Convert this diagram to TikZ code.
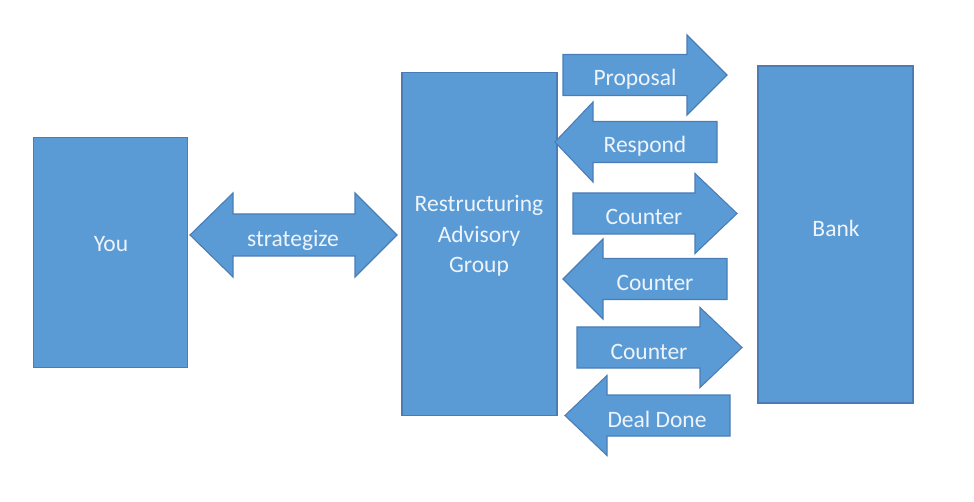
\documentclass[tikz,border=0pt]{standalone}
\usepackage{fontspec}
\setmainfont{Carlito}
\definecolor{boxfill}{HTML}{5B9BD5}
\definecolor{boxline}{HTML}{4A7DB5}
\definecolor{txt}{HTML}{EEF4FB}
\newcommand\RBlk[5]{% name, x1, xbase, xtip, yc
  \filldraw[blk] ({#2},{#5-20.5}) -- ({#3},{#5-20.5}) -- ({#3},{#5-40}) -- ({#4},{#5})
    -- ({#3},{#5+40}) -- ({#3},{#5+20.5}) -- ({#2},{#5+20.5}) -- cycle;
  \coordinate (#1) at ({(#2+#4)/2},{#5});}
\newcommand\LBlk[5]{% name, xtip, xbase, x2, yc
  \filldraw[blk] ({#2},{#5}) -- ({#3},{#5-40}) -- ({#3},{#5-20.5}) -- ({#4},{#5-20.5})
    -- ({#4},{#5+20.5}) -- ({#3},{#5+20.5}) -- ({#3},{#5+40}) -- cycle;
  \coordinate (#1) at ({(#2+#4)/2},{#5});}
\begin{document}
\begin{tikzpicture}[x=1pt,y=-1pt,
  blk/.style={fill=boxfill,draw=boxline,line width=1.1pt,line join=miter},
  bx/.style={rectangle,fill=boxfill,draw=boxline,line width=1.1pt,inner sep=0pt},
  lbl/.style={text=txt,font=\fontsize{23.5}{30.5}\selectfont,align=center,inner sep=0pt}]
\useasboundingbox[fill=white] (0,0) rectangle (974,502);
% boxes
\node[bx,minimum width=154pt,minimum height=230pt] (you) at (110.5,252.5) {};
\node[bx,minimum width=155pt,minimum height=343pt] (rag) at (479.5,244) {};
\node[bx,minimum width=155pt,minimum height=337pt] (bank) at (835.5,234.5) {};
\node[lbl] (youT) at (111,244) {You};
\node[lbl] (ragT) at (479,236) {Restructuring\\Advisory\\Group};
\node[lbl] (bankT) at (836,228) {Bank};
% strategize double arrow
\filldraw[blk] (190,235) -- (233,193) -- (233,214) -- (355,214) -- (355,193) -- (397,235)
  -- (355,277) -- (355,256) -- (233,256) -- (233,277) -- cycle;
\node[lbl] (strat) at (293,240) {strategize};
% exchange arrows
\RBlk{a1}{563}{687}{727}{75}
\LBlk{a2}{555}{593}{717}{142}
\RBlk{a3}{573}{695}{737}{213.5}
\LBlk{a4}{563}{603}{727}{279}
\RBlk{a5}{577}{700}{742}{347.5}
\LBlk{a6}{565}{607}{730}{415.5}
\node[lbl] (t1) at (635,79) {Proposal};
\node[lbl] (t2) at (645,146) {Respond};
\node[lbl] (t3) at (644,217) {Counter};
\node[lbl] (t4) at (655,283) {Counter};
\node[lbl] (t5) at (649,352) {Counter};
\node[lbl] (t6) at (657,419) {Deal Done};
\end{tikzpicture}
\end{document}
